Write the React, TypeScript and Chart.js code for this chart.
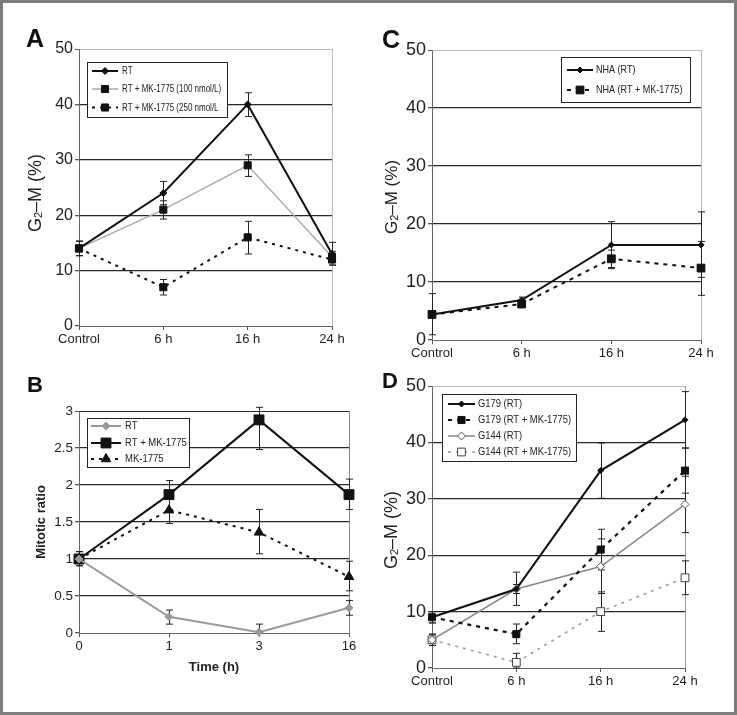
import React, { useEffect, useRef } from 'react';
import { Chart, registerables } from 'chart.js';

Chart.register(...registerables);

const FONT = "'Liberation Sans', Arial, Helvetica, sans-serif";

// ---------- Panel A ----------
const A_LABELS = ['Control', '6 h', '16 h', '24 h'];
const A_RT = [14, 24, 40, 13];
const A_RT_LO = [12.7, 21.9, 37.8, 11.0];
const A_RT_HI = [15.3, 26.1, 42.1, 15.1];
const A_MK100 = [14, 21, 29, 12.5];
const A_MK100_LO = [12.7, 19.3, 27.0, 11.5];
const A_MK100_HI = [15.3, 22.6, 30.9, 13.5];
const A_MK250 = [14, 7, 16, 12];
const A_MK250_LO = [12.7, 5.6, 13.0, 11.0];
const A_MK250_HI = [15.3, 8.4, 18.9, 13.0];

// ---------- Panel B ----------
const B_LABELS = ['0', '1', '3', '16'];
const B_RT = [1, 0.22, 0.01, 0.34];
const B_RT_LO = [0.91, 0.12, 0, 0.24];
const B_RT_HI = [1.1, 0.31, 0.12, 0.44];
const B_RTMK = [1, 1.87, 2.88, 1.87];
const B_RTMK_LO = [0.91, 1.67, 2.48, 1.67];
const B_RTMK_HI = [1.1, 2.06, 3.05, 2.08];
const B_MK = [1, 1.66, 1.36, 0.76];
const B_MK_LO = [0.91, 1.48, 1.07, 0.57];
const B_MK_HI = [1.1, 1.84, 1.67, 0.97];

// ---------- Panel C ----------
const C_LABELS = ['Control', '6 h', '16 h', '24 h'];
const C_RT = [4.4, 6.9, 16.4, 16.4];
const C_RT_LO = [0.9, 6.4, 12.3, 10.8];
const C_RT_HI = [8.0, 7.4, 20.4, 22.1];
const C_MK = [4.4, 6.2, 14.0, 12.4];
const C_MK_LO = [3.9, 5.8, 12.5, 7.7];
const C_MK_HI = [4.9, 6.7, 15.5, 17.0];

// ---------- Panel D ----------
const D_LABELS = ['Control', '6 h', '16 h', '24 h'];
const D_G179 = [9, 14, 35, 44];
const D_G179_LO = [8, 11.1, 30.1, 39];
const D_G179_HI = [10, 17, 39.9, 49];
const D_G179MK = [9, 6, 21, 35];
const D_G179MK_LO = [8, 4.3, 17.4, 31];
const D_G179MK_HI = [10, 7.8, 24.6, 39];
const D_G144 = [5, 14, 18, 29];
const D_G144_LO = [4, 13.2, 13.2, 24];
const D_G144_HI = [6, 14.8, 22.9, 34];
const D_G144MK = [5, 1, 10, 16];
const D_G144MK_LO = [4, 0, 6.5, 13];
const D_G144MK_HI = [6, 2.6, 13.5, 19];

type DS = {
  label: string; data: number[]; lo: number[]; hi: number[];
  color: string; width: number; dash?: number[];
  pointStyle: string; radius: number; fill: string; stroke: string;
};

type Spec = {
  letter: string; letterX: number; letterY: number; letterSize: number;
  labels: string[]; ds: DS[];
  yMin: number; yMax: number; yStep: number;
  L: number; T: number; R: number; B: number;
  yTickSize: number; xTickSize: number;
  g2m?: { x: number; y: number; size: number };
  yTitle?: string; xTitle?: string; padLeft: number; xHeight: number; padBottom: number;
  topColor: string; rightColor: string;
  legend: { x: number; y: number; w: number; h: number; rows: number[]; x1: number; x2: number; tx: number; font: string; sx: number };
};

function drawMarker(ctx: CanvasRenderingContext2D, style: string, x: number, y: number, r: number, fill: string, stroke: string) {
  ctx.save();
  ctx.setLineDash([]);
  ctx.beginPath();
  if (style === 'rect') {
    const s = Math.SQRT1_2 * r;
    ctx.rect(x - s, y - s, 2 * s, 2 * s);
  } else if (style === 'rectRot') {
    ctx.moveTo(x - r, y); ctx.lineTo(x, y - r); ctx.lineTo(x + r, y); ctx.lineTo(x, y + r); ctx.closePath();
  } else if (style === 'triangle') {
    let rad = 0;
    ctx.moveTo(x + Math.sin(rad) * r, y - Math.cos(rad) * r);
    rad += (2 * Math.PI) / 3;
    ctx.lineTo(x + Math.sin(rad) * r, y - Math.cos(rad) * r);
    rad += (2 * Math.PI) / 3;
    ctx.lineTo(x + Math.sin(rad) * r, y - Math.cos(rad) * r);
    ctx.closePath();
  } else {
    ctx.arc(x, y, r, 0, Math.PI * 2);
  }
  ctx.fillStyle = fill; ctx.fill();
  ctx.lineWidth = 1; ctx.strokeStyle = stroke; ctx.stroke();
  ctx.restore();
}

const extras = {
  id: 'panelExtras',
  beforeDatasetsDraw(chart: any) {
    const spec: Spec = chart.options.plugins.panelExtras.spec;
    const ctx = chart.ctx as CanvasRenderingContext2D;
    const ys = chart.scales.y;
    ctx.save();
    ctx.strokeStyle = '#222';
    ctx.lineWidth = 1;
    ctx.setLineDash([]);
    spec.ds.forEach((d, i) => {
      const meta = chart.getDatasetMeta(i);
      meta.data.forEach((pt: any, j: number) => {
        const x = Math.round(pt.x) + 0.5;
        const y1 = ys.getPixelForValue(Math.max(d.lo[j], spec.yMin));
        const y2 = ys.getPixelForValue(Math.min(d.hi[j], spec.yMax + 0.2 * spec.yStep));
        ctx.beginPath();
        ctx.moveTo(x, y1); ctx.lineTo(x, y2);
        ctx.moveTo(x - 3.5, y1); ctx.lineTo(x + 3.5, y1);
        ctx.moveTo(x - 3.5, y2); ctx.lineTo(x + 3.5, y2);
        ctx.stroke();
      });
    });
    ctx.restore();
  },
  afterDraw(chart: any) {
    const spec: Spec = chart.options.plugins.panelExtras.spec;
    const ctx = chart.ctx as CanvasRenderingContext2D;
    ctx.save();
    // panel letter
    ctx.fillStyle = '#111';
    ctx.font = `bold ${spec.letterSize}px ${FONT}`;
    ctx.textAlign = 'left';
    ctx.textBaseline = 'alphabetic';
    ctx.fillText(spec.letter, spec.letterX, spec.letterY);
    // G2-M title
    if (spec.g2m) {
      const { x, y, size } = spec.g2m;
      ctx.save();
      ctx.translate(x, y);
      ctx.rotate(-Math.PI / 2);
      const f1 = `${size}px ${FONT}`;
      const f2 = `${Math.round(size * 0.62)}px ${FONT}`;
      ctx.font = f1; const w1 = ctx.measureText('G').width; const w3 = ctx.measureText('–M (%)').width;
      ctx.font = f2; const w2 = ctx.measureText('2').width;
      const start = -(w1 + w2 + w3) / 2;
      const base = size * 0.36;
      ctx.fillStyle = '#222';
      ctx.font = f1; ctx.fillText('G', start, base);
      ctx.font = f2; ctx.fillText('2', start + w1, base + 1);
      ctx.font = f1; ctx.fillText('–M (%)', start + w1 + w2, base);
      ctx.restore();
    }
    // legend
    const lg = spec.legend;
    ctx.fillStyle = '#fff';
    ctx.fillRect(lg.x, lg.y, lg.w, lg.h);
    ctx.strokeStyle = '#222';
    ctx.lineWidth = 1;
    ctx.setLineDash([]);
    ctx.strokeRect(lg.x + 0.5, lg.y + 0.5, lg.w, lg.h);
    spec.ds.forEach((d, i) => {
      const ry = lg.rows[i];
      ctx.save();
      ctx.strokeStyle = d.color;
      ctx.lineWidth = d.width;
      ctx.setLineDash(d.dash || []);
      ctx.beginPath();
      ctx.moveTo(lg.x1, ry); ctx.lineTo(lg.x2, ry);
      ctx.stroke();
      ctx.restore();
      drawMarker(ctx, d.pointStyle, (lg.x1 + lg.x2) / 2, ry, d.radius, d.fill, d.stroke);
      ctx.save();
      ctx.fillStyle = '#222';
      ctx.font = lg.font;
      ctx.textBaseline = 'middle';
      ctx.textAlign = 'left';
      ctx.translate(lg.tx, ry + 0.5);
      ctx.scale(lg.sx, 1);
      ctx.fillText(d.label, 0, 0);
      ctx.restore();
    });
    ctx.restore();
  },
};

function buildConfig(spec: Spec): any {
  const n = spec.labels.length;
  const W = 737;
  return {
    type: 'line',
    data: {
      labels: spec.labels,
      datasets: spec.ds.map((d) => ({
        label: d.label,
        data: d.data,
        borderColor: d.color,
        borderWidth: d.width,
        borderDash: d.dash || [],
        pointStyle: d.pointStyle,
        pointRadius: d.radius,
        pointBackgroundColor: d.fill,
        pointBorderColor: d.stroke,
        pointBorderWidth: 1,
        fill: false,
        tension: 0,
        clip: false,
      })),
    },
    plugins: [extras],
    options: {
      responsive: false,
      animation: false,
      devicePixelRatio: 1,
      events: [],
      layout: { padding: { left: spec.padLeft, top: spec.T, right: W - spec.R, bottom: spec.padBottom } },
      plugins: {
        legend: { display: false },
        tooltip: { enabled: false },
        panelExtras: { spec },
      },
      scales: {
        x: {
          type: 'category',
          offset: false,
          grid: {
            color: (c: any) => (c.index === n - 1 ? spec.rightColor : 'rgba(0,0,0,0)'),
            tickColor: '#555',
            tickLength: 4,
            lineWidth: 1,
          },
          border: { color: '#666', width: 1 },
          ticks: { font: { size: spec.xTickSize, family: FONT }, color: '#222', padding: 2, maxRotation: 0, autoSkip: false },
          title: spec.xTitle
            ? { display: true, text: spec.xTitle, font: { size: 13, weight: 'bold', family: FONT }, color: '#222', padding: 0 }
            : { display: false },
          afterFit: (s: any) => { s.height = spec.xHeight; },
        },
        y: {
          min: spec.yMin,
          max: spec.yMax,
          ticks: {
            stepSize: spec.yStep,
            font: { size: spec.yTickSize, family: FONT },
            color: '#222',
            padding: 2,
            callback: (v: any) => String(Math.round(Number(v) * 100) / 100),
          },
          grid: {
            color: (c: any) => {
              const v = c.tick ? c.tick.value : 0;
              if (Math.abs(v - spec.yMax) < 1e-9) return spec.topColor;
              if (Math.abs(v - spec.yMin) < 1e-9) return 'rgba(0,0,0,0)';
              return '#2a2a2a';
            },
            lineWidth: (c: any) => {
              const v = c.tick ? c.tick.value : 0;
              if (Math.abs(v - spec.yMax) < 1e-9) return 1;
              return 1.3;
            },
            tickColor: '#555',
            tickLength: 4,
          },
          border: { color: '#666', width: 1 },
          title: spec.yTitle
            ? { display: true, text: spec.yTitle, font: { size: 13, weight: 'bold', family: FONT }, color: '#222', padding: 0 }
            : { display: false },
          afterFit: (s: any) => { s.width = spec.L - spec.padLeft; },
        },
      },
    },
  };
}

const BLACK = '#111';

const specA: Spec = {
  letter: 'A', letterX: 26, letterY: 47, letterSize: 25,
  labels: A_LABELS,
  ds: [
    { label: 'RT', data: A_RT, lo: A_RT_LO, hi: A_RT_HI, color: BLACK, width: 2, pointStyle: 'rectRot', radius: 3.5, fill: BLACK, stroke: BLACK },
    { label: 'RT + MK-1775 (100 nmol/L)', data: A_MK100, lo: A_MK100_LO, hi: A_MK100_HI, color: '#aaa', width: 1.5, pointStyle: 'rect', radius: 5, fill: BLACK, stroke: BLACK },
    { label: 'RT + MK-1775 (250 nmol/L', data: A_MK250, lo: A_MK250_LO, hi: A_MK250_HI, color: BLACK, width: 2, dash: [3, 5], pointStyle: 'rect', radius: 5, fill: BLACK, stroke: BLACK },
  ],
  yMin: 0, yMax: 50, yStep: 10,
  L: 79, T: 49, R: 332, B: 326,
  yTickSize: 16, xTickSize: 13,
  g2m: { x: 35, y: 193, size: 18 },
  padLeft: 0, xHeight: 30, padBottom: 715 - 326 - 30,
  topColor: '#bbb', rightColor: '#bbb',
  legend: { x: 87, y: 62, w: 140, h: 55, rows: [71, 89, 107.5], x1: 92, x2: 118, tx: 122, font: `10px ${FONT}`, sx: 0.8 },
};

const specC: Spec = {
  letter: 'C', letterX: 382, letterY: 48, letterSize: 25,
  labels: C_LABELS,
  ds: [
    { label: 'NHA (RT)', data: C_RT, lo: C_RT_LO, hi: C_RT_HI, color: BLACK, width: 2, pointStyle: 'rectRot', radius: 3, fill: BLACK, stroke: BLACK },
    { label: 'NHA (RT + MK-1775)', data: C_MK, lo: C_MK_LO, hi: C_MK_HI, color: BLACK, width: 2, dash: [4, 5], pointStyle: 'rect', radius: 5.5, fill: BLACK, stroke: BLACK },
  ],
  yMin: 0, yMax: 50, yStep: 10,
  L: 432, T: 50, R: 701, B: 340,
  yTickSize: 18, xTickSize: 13,
  g2m: { x: 391, y: 197, size: 17 },
  padLeft: 0, xHeight: 30, padBottom: 715 - 340 - 30,
  topColor: '#bbb', rightColor: '#bbb',
  legend: { x: 561, y: 57, w: 129, h: 45, rows: [70, 90], x1: 567, x2: 593, tx: 596, font: `10.5px ${FONT}`, sx: 0.86 },
};

const specB: Spec = {
  letter: 'B', letterX: 27, letterY: 392, letterSize: 22,
  labels: B_LABELS,
  ds: [
    { label: 'RT', data: B_RT, lo: B_RT_LO, hi: B_RT_HI, color: '#999', width: 2, pointStyle: 'rectRot', radius: 4, fill: '#999', stroke: '#999' },
    { label: 'RT + MK-1775', data: B_RTMK, lo: B_RTMK_LO, hi: B_RTMK_HI, color: BLACK, width: 2, pointStyle: 'rect', radius: 7, fill: BLACK, stroke: BLACK },
    { label: 'MK-1775', data: B_MK, lo: B_MK_LO, hi: B_MK_HI, color: BLACK, width: 2, dash: [3, 5], pointStyle: 'triangle', radius: 5.5, fill: BLACK, stroke: BLACK },
  ],
  yMin: 0, yMax: 3, yStep: 0.5,
  L: 79, T: 411, R: 349, B: 633,
  yTickSize: 13.5, xTickSize: 13,
  yTitle: 'Mitotic ratio', xTitle: 'Time (h)',
  padLeft: 34, xHeight: 42, padBottom: 40,
  topColor: '#2a2a2a', rightColor: '#888',
  legend: { x: 87, y: 418, w: 102, h: 49, rows: [426, 443, 459], x1: 91, x2: 121, tx: 125, font: `10px ${FONT}`, sx: 0.95 },
};

const specD: Spec = {
  letter: 'D', letterX: 382, letterY: 388, letterSize: 22,
  labels: D_LABELS,
  ds: [
    { label: 'G179 (RT)', data: D_G179, lo: D_G179_LO, hi: D_G179_HI, color: BLACK, width: 2, pointStyle: 'rectRot', radius: 3, fill: BLACK, stroke: BLACK },
    { label: 'G179 (RT + MK-1775)', data: D_G179MK, lo: D_G179MK_LO, hi: D_G179MK_HI, color: BLACK, width: 2.2, dash: [4, 5], pointStyle: 'rect', radius: 5, fill: BLACK, stroke: BLACK },
    { label: 'G144 (RT)', data: D_G144, lo: D_G144_LO, hi: D_G144_HI, color: '#888', width: 1.5, pointStyle: 'rectRot', radius: 4, fill: '#fff', stroke: '#555' },
    { label: 'G144 (RT + MK-1775)', data: D_G144MK, lo: D_G144MK_LO, hi: D_G144MK_HI, color: '#999', width: 1.5, dash: [3, 5], pointStyle: 'rect', radius: 5.5, fill: '#fff', stroke: '#444' },
  ],
  yMin: 0, yMax: 50, yStep: 10,
  L: 432, T: 386, R: 685, B: 668,
  yTickSize: 18, xTickSize: 13,
  g2m: { x: 391, y: 530, size: 18 },
  padLeft: 0, xHeight: 30, padBottom: 715 - 668 - 30,
  topColor: '#bbb', rightColor: '#999',
  legend: { x: 442, y: 394, w: 134, h: 67, rows: [404, 420, 436, 452], x1: 448, x2: 475, tx: 478, font: `10px ${FONT}`, sx: 0.94 },
};

function Panel({ spec }: { spec: Spec }) {
  const ref = useRef<HTMLCanvasElement | null>(null);
  useEffect(() => {
    if (!ref.current) return;
    const chart = new Chart(ref.current, buildConfig(spec));
    return () => chart.destroy();
  }, [spec]);
  return (
    <canvas
      ref={ref}
      width={737}
      height={715}
      style={{ position: 'absolute', left: 0, top: 0, width: 737, height: 715 }}
    />
  );
}

export default function App() {
  return (
    <div style={{ position: 'absolute', left: 0, top: 0, width: 737, height: 715, background: '#fff', overflow: 'hidden' }}>
      <Panel spec={specA} />
      <Panel spec={specC} />
      <Panel spec={specB} />
      <Panel spec={specD} />
      <div
        style={{
          position: 'absolute', left: 0, top: 0, width: 737, height: 715,
          boxSizing: 'border-box', border: '3px solid #7d7d7d', pointerEvents: 'none',
        }}
      />
    </div>
  );
}
